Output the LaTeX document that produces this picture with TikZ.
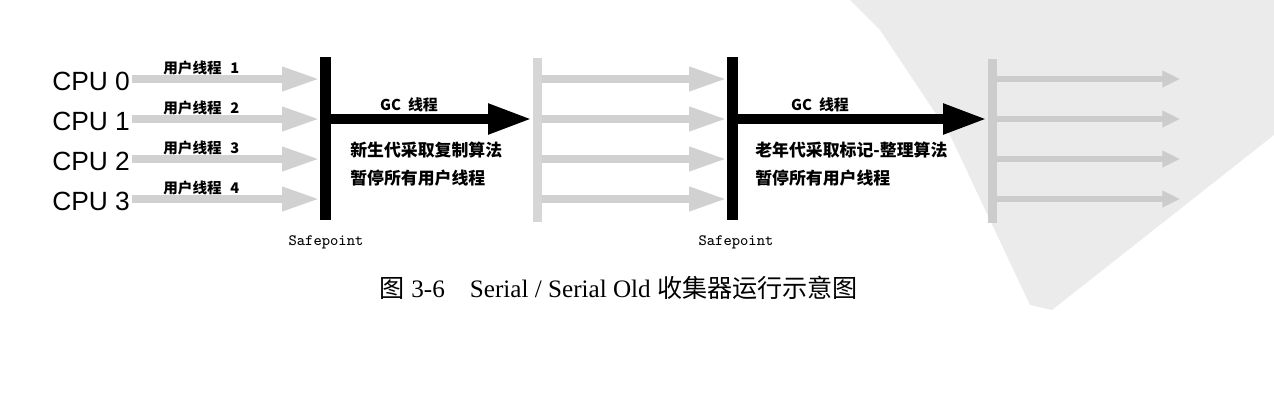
\documentclass[tikz,border=0pt]{standalone}
\usepackage{fontspec}
\setmainfont{Liberation Serif}
\newfontfamily\cjk{Noto Sans CJK SC}
\newfontfamily\arial{Liberation Sans}
\usetikzlibrary{arrows.meta}

\begin{document}
\begin{tikzpicture}[x=0.2mm,y=-0.2mm]
\colorlet{thread}{black!18}
\colorlet{wmark}{black!8}
\tikzset{bar/.style={fill=black,inner sep=0pt,minimum width=2.2mm,minimum height=32.6mm},
         ghost/.style={fill=black!16,inner sep=0pt,minimum width=1.8mm,minimum height=32.8mm},
         uthread/.style={draw=thread,line width=4pt,-{Triangle[length=21pt,width=13pt]}},
         fthread/.style={draw=black!20,line width=3.6pt,-{Triangle[length=10pt,width=9pt]}},
         gcthread/.style={draw=black,line width=5.7pt,-{Triangle[length=25pt,width=16pt]}},
         lbl/.style={font=\cjk\bfseries\fontsize{9.6}{11}\selectfont,anchor=west,inner sep=0pt}}

\useasboundingbox (0,0) rectangle (1274,406);

% watermark behind the last stage
\fill[wmark] (850,0) -- (880,30) -- (950,135) -- (1030,305) -- (1052,310) -- (1274,135) -- (1274,0) -- cycle;

% safepoints and the faded bars
\node[bar] (sp1) at (325,138.5) {};
\node[ghost] (g1) at (537,140) {};
\node[bar] (sp2) at (732,138.5) {};
\node[ghost,fill=black!20] (g2) at (992,141) {};

% CPUs and user threads, one row each
\foreach \i/\n/\y in {0/1/79, 1/2/119, 2/3/159, 3/4/199}
{
    \coordinate (r\i) at (0,\y);
    \coordinate (e\i) at (1180,\y);
    \node[font=\arial\fontsize{15}{17}\selectfont,anchor=east,inner sep=1pt] (cpu\i) at (132,\y+2) {CPU \i};
    \node[font=\cjk\bfseries\fontsize{8.3}{9}\selectfont,anchor=base west,inner sep=0pt] (ut\i) at (163,\y-6) {用户线程\hspace{5pt}\n};
    \draw[uthread] (cpu\i.east |- r\i) -- (sp1.west |- r\i);
    \draw[uthread] (g1.east |- r\i) -- (sp2.west |- r\i);
    \draw[fthread] (g2.east |- r\i) -- (e\i);
}

% the GC threads
\draw[gcthread] (sp1.east |- r1) -- (g1.west |- r1);
\draw[gcthread] (sp2.east |- r1) -- (g2.west |- r1);

\node[font=\cjk\bfseries\fontsize{8.5}{10}\selectfont] (gc1) at (409,105) {GC\hspace{4pt}线程};
\node[lbl] (alg1) at (350,150) {新生代采取复制算法};
\node[lbl] (stop1) at (350,178) {暂停所有用户线程};
\node[font=\cjk\bfseries\fontsize{8.5}{10}\selectfont] (gc2) at (820,105) {GC\hspace{4pt}线程};
\node[lbl] (alg2) at (755,150) {老年代采取标记-整理算法};
\node[lbl] (stop2) at (755,178) {暂停所有用户线程};

\node[font=\ttfamily\fontsize{9}{10}\selectfont] (spl1) at (326,242) {Safepoint};
\node[font=\ttfamily\fontsize{9}{10}\selectfont] (spl2) at (736,242) {Safepoint};

% caption
\node[font=\fontsize{14.3}{16}\selectfont] (cap) at (619,288) {{\cjk 图} 3-6\quad Serial / Serial Old {\cjk 收集器运行示意图}};
\end{tikzpicture}
\end{document}
